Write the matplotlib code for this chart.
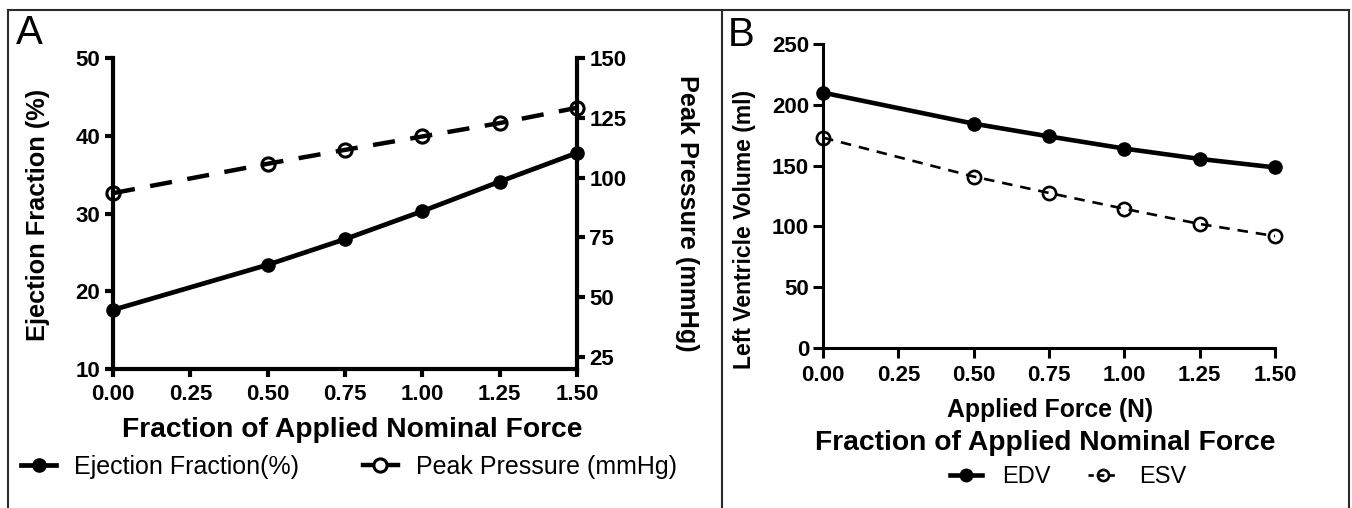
import matplotlib
matplotlib.use("Agg")
import matplotlib.pyplot as plt
from matplotlib.lines import Line2D

plt.rcParams['font.family'] = ['Liberation Sans', 'DejaVu Sans']

# ---- data ----
force = [0.0, 0.5, 0.75, 1.0, 1.25, 1.5]
ejection_fraction = [17.6, 23.4, 26.7, 30.3, 34.1, 37.8]
peak_pressure = [93.5, 105.8, 111.6, 117.2, 122.8, 129.2]
edv = [210.0, 184.5, 174.0, 164.0, 155.5, 148.5]
esv = [173.0, 141.0, 127.5, 114.5, 102.0, 92.0]
x_ticks = [0.0, 0.25, 0.5, 0.75, 1.0, 1.25, 1.5]
x_ticklabels = ["0.00", "0.25", "0.50", "0.75", "1.00", "1.25", "1.50"]
ef_ticks = [10, 20, 30, 40, 50]
pp_ticks = [25, 50, 75, 100, 125, 150]
vol_ticks = [0, 50, 100, 150, 200, 250]

W, H = 1352, 508
fig = plt.figure(figsize=(W / 100, H / 100), dpi=100)

def fx(px):
    return px / W

def fy(py):
    return 1 - py / H

# ---- frame lines ----
border_kw = dict(color='#2a2a2a', lw=1.5, transform=fig.transFigure)
fig.add_artist(Line2D([fx(8), fx(1349)], [fy(10), fy(10)], **border_kw))
fig.add_artist(Line2D([fx(8), fx(8)], [fy(10), fy(510)], **border_kw))
fig.add_artist(Line2D([fx(1349), fx(1349)], [fy(10), fy(510)], **border_kw))
fig.add_artist(Line2D([fx(722), fx(722)], [fy(10), fy(510)], **border_kw))

TICK_FS = 16

# ---- panel A ----
axA = fig.add_axes([fx(113), fy(369), fx(577 - 113), (369 - 58) / H])
axA.set_xlim(0, 1.5)
axA.set_ylim(10, 50)
for s in ['top', 'right']:
    axA.spines[s].set_visible(False)
for s in ['left', 'bottom']:
    axA.spines[s].set_linewidth(3.0)
axA.set_xticks(x_ticks)
axA.set_xticklabels(x_ticklabels)
axA.set_yticks(ef_ticks)
axA.tick_params(width=3.0, length=6, pad=3, labelsize=TICK_FS)
for lab in axA.get_xticklabels() + axA.get_yticklabels():
    lab.set_fontweight('bold')
axA.tick_params(axis='x', pad=5)
axA.patch.set_alpha(0)

axA.plot(force, ejection_fraction, color='black', lw=3.4, marker='o',
         ms=9.5, mfc='black', mec='black', clip_on=False, zorder=5)

axA2 = axA.twinx()
axA2.set_ylim(20, 150)
axA2.set_yticks(pp_ticks)
for s in ['top', 'left', 'bottom']:
    axA2.spines[s].set_visible(False)
axA2.spines['right'].set_linewidth(3.0)
axA2.tick_params(width=3.0, length=6, pad=3, labelsize=TICK_FS)
for lab in axA2.get_yticklabels():
    lab.set_fontweight('bold')
axA2.plot(force, peak_pressure, color='black', lw=3.2, ls=(0, (5, 3.5)),
          marker='o', ms=9.5, mfc='none', mec='black', mew=2.2,
          clip_on=False, zorder=5)

fig.text(fx(38), fy(215), "Ejection Fraction (%)", rotation=90, ha='center',
         va='center', fontsize=18.3, fontweight='bold')
fig.text(fx(687), fy(213), "Peak Pressure (mmHg)", rotation=270, ha='center',
         va='center', fontsize=18.2, fontweight='bold')
fig.text(fx(352), fy(430), "Fraction of Applied Nominal Force", ha='center',
         va='center', fontsize=20.3, fontweight='bold')
fig.text(fx(16), fy(14), "A", ha='left', va='top', fontsize=29,
         family=['Liberation Sans Narrow', 'Liberation Sans'])

hA1 = Line2D([], [], color='black', lw=3.4, marker='o', ms=9.5, mfc='black')
hA2 = Line2D([], [], color='black', lw=3.2, marker='o', ms=9.5, mfc='white',
             mec='black', mew=2.2)
fig.legend([hA1, hA2], ["Ejection Fraction(%)", "Peak Pressure (mmHg)"],
           loc='center left', bbox_to_anchor=(fx(21), fy(467)), ncol=2,
           frameon=False, fontsize=18, handlelength=1.4, handletextpad=0.72,
           columnspacing=2.55, borderpad=0, borderaxespad=0)

# ---- panel B ----
axB = fig.add_axes([fx(823), fy(348), fx(1275 - 823), (348 - 44) / H])
axB.set_xlim(0, 1.5)
axB.set_ylim(0, 250)
for s in ['top', 'right']:
    axB.spines[s].set_visible(False)
for s in ['left', 'bottom']:
    axB.spines[s].set_linewidth(2.2)
axB.set_xticks(x_ticks)
axB.set_xticklabels(x_ticklabels)
axB.set_yticks(vol_ticks)
axB.tick_params(width=2.2, length=7, pad=3, labelsize=TICK_FS)
axB.tick_params(axis='x', pad=5)
for lab in axB.get_xticklabels() + axB.get_yticklabels():
    lab.set_fontweight('bold')
axB.patch.set_alpha(0)

axB.plot(force, edv, color='black', lw=3.3, marker='o', ms=9.5, mfc='black',
         clip_on=False, zorder=5)
axB.plot(force, esv, color='black', lw=1.9, ls=(0, (4, 3)), marker='o', ms=9.5,
         mfc='none', mec='black', mew=1.9, clip_on=False, zorder=5)

fig.text(fx(744), fy(229), "Left Ventricle Volume (ml)", rotation=90,
         ha='center', va='center', fontsize=16.5, fontweight='bold')
fig.text(fx(1050), fy(410), "Applied Force (N)", ha='center', va='center',
         fontsize=17.8, fontweight='bold')
fig.text(fx(1045), fy(443), "Fraction of Applied Nominal Force", ha='center',
         va='center', fontsize=20.3, fontweight='bold')
fig.text(fx(728), fy(16), "B", ha='left', va='top', fontsize=29,
         family=['Liberation Sans Narrow', 'Liberation Sans'])

hB1 = Line2D([], [], color='black', lw=3.3, marker='o', ms=9, mfc='black')
hB2 = Line2D([], [], color='black', lw=1.9, ls=(0, (2, 2)), marker='o', ms=8,
             mfc='none', mec='black', mew=1.9)
fig.legend([hB1, hB2], ["EDV", "ESV"], loc='center left',
           bbox_to_anchor=(fx(950), fy(477)), ncol=2, frameon=False,
           fontsize=17, handlelength=1.35, handletextpad=0.85,
           columnspacing=1.57, borderpad=0, borderaxespad=0)

fig.savefig("out.png", dpi=100)
